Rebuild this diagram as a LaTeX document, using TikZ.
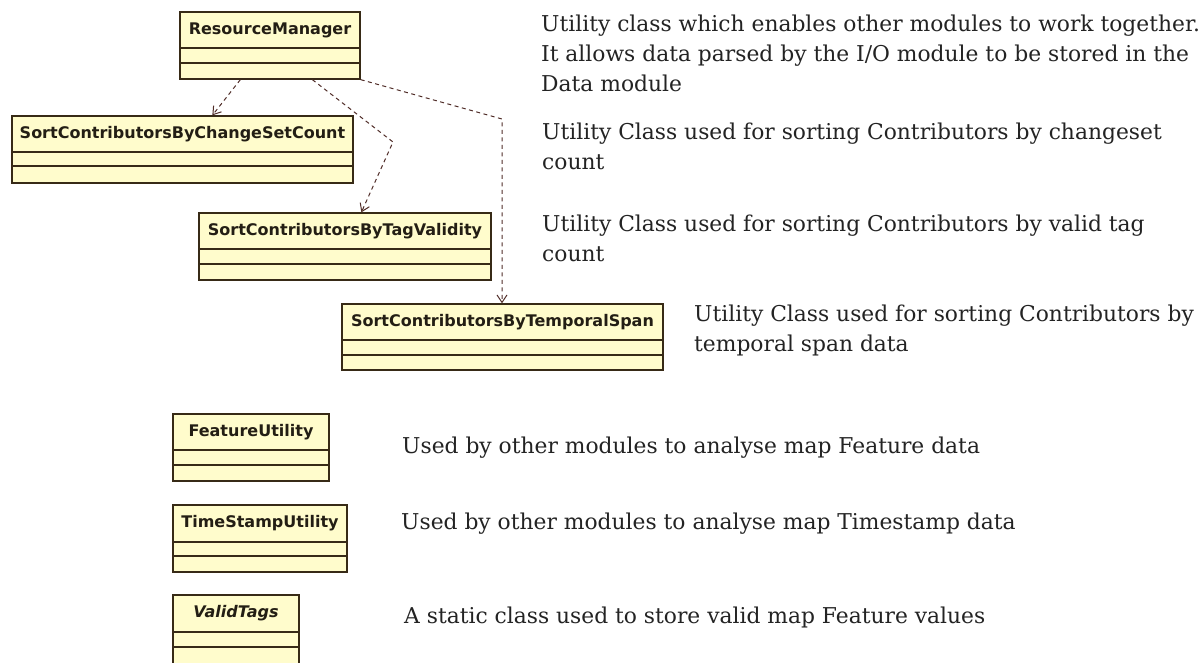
\documentclass[tikz,border=0pt]{standalone}
\usepackage{fontspec}
\setmainfont{DejaVu Serif}
\newfontfamily\classfont{DejaVu Sans}
\usetikzlibrary{arrows.meta,calc,fit}

\definecolor{classfill}{RGB}{255,252,204}
\definecolor{classline}{RGB}{55,42,22}
\definecolor{classtext}{RGB}{35,30,20}
\definecolor{deparrow}{RGB}{80,45,40}
\definecolor{notetext}{RGB}{35,35,35}

\tikzset{
  classbox/.style={draw=classline, fill=classfill, line width=1.3pt, inner sep=0pt},
  classname/.style={font=\classfont\bfseries\fontsize{16}{19}\selectfont, text=classtext, inner sep=0pt},
  compart/.style={draw=classline, line width=1.3pt},
  depend/.style={draw=deparrow, line width=1pt, dash pattern=on 4pt off 3.5pt,
    -{Straight Barb[length=7.5pt,width=10pt]}},
  % the base anchor of a multi-line note is the baseline of its last line
  note/.style={font=\fontsize{21.8}{30}\selectfont, align=left, anchor=base west,
    inner sep=0pt, text=notetext},
}

% \umlclass{name}{x1}{y1}{x2}{y2}{first divider y}{second divider y}{class name}
\newcommand{\umlclass}[8]{%
  \coordinate (#1-nw) at (#2,#3);
  \coordinate (#1-se) at (#4,#5);
  \node[classbox, fit=(#1-nw)(#1-se)] (#1) {};
  \node[classname] (#1-name) at ({(#2+#4)/2},{(#3+#6)/2}) {#8};
  \draw[compart] (#2,#6) -- (#4,#6);
  \draw[compart] (#2,#7) -- (#4,#7);
}

\begin{document}
\begin{tikzpicture}[x=1pt, y=-1pt]
  \fill[white] (0,0) rectangle (1204,662);
  \useasboundingbox (0,0) rectangle (1204,662);

  % classes
  \umlclass{rm}{180}{12}{360}{79}{48}{63}{ResourceManager}
  \umlclass{sccs}{12}{116}{353}{183}{152}{166}{SortContributorsByChangeSetCount}
  \umlclass{sctv}{199}{213}{491}{280}{249}{264}{SortContributorsByTagValidity}
  \umlclass{scts}{342}{304}{663}{370}{340}{355}{SortContributorsByTemporalSpan}
  \umlclass{fu}{173}{414}{329}{481}{450}{465}{FeatureUtility}
  \umlclass{tsu}{173}{505}{347}{572}{542}{556}{TimeStampUtility}
  \umlclass{vt}{173}{595}{299}{668}{632}{647}{\itshape ValidTags}

  % dependencies
  \coordinate (bend2) at (393,142);
  \coordinate (bend3) at (502,119);
  \draw[depend] ($(rm.south west)+(61,0)$) -- ($(sccs.north west)+(201,0)$);
  \draw[depend] ($(rm.south west)+(133,0)$) -- (bend2) -- ($(sctv.north west)+(163,0)$);
  \draw[depend] (rm.south east) -- (bend3) -- (scts.north west -| bend3);

  % descriptions
  \node[note] (n-rm) at (541,91) {Utility class which enables other modules to work together.\\
    It allows data parsed by the I/O module to be stored in the\\Data module};
  \node[note] (n-sccs) at (542,169) {Utility Class used for sorting Contributors by changeset\\count};
  \node[note] (n-sctv) at (542,261) {Utility Class used for sorting Contributors by valid tag\\count};
  \node[note] (n-scts) at (694,351) {Utility Class used for sorting Contributors by\\temporal span data};
  \node[note] (n-fu) at (402,453) {Used by other modules to analyse map Feature data};
  \node[note] (n-tsu) at (401,529) {Used by other modules to analyse map Timestamp data};
  \node[note] (n-vt) at (404,623) {A static class used to store valid map Feature values};
\end{tikzpicture}
\end{document}
